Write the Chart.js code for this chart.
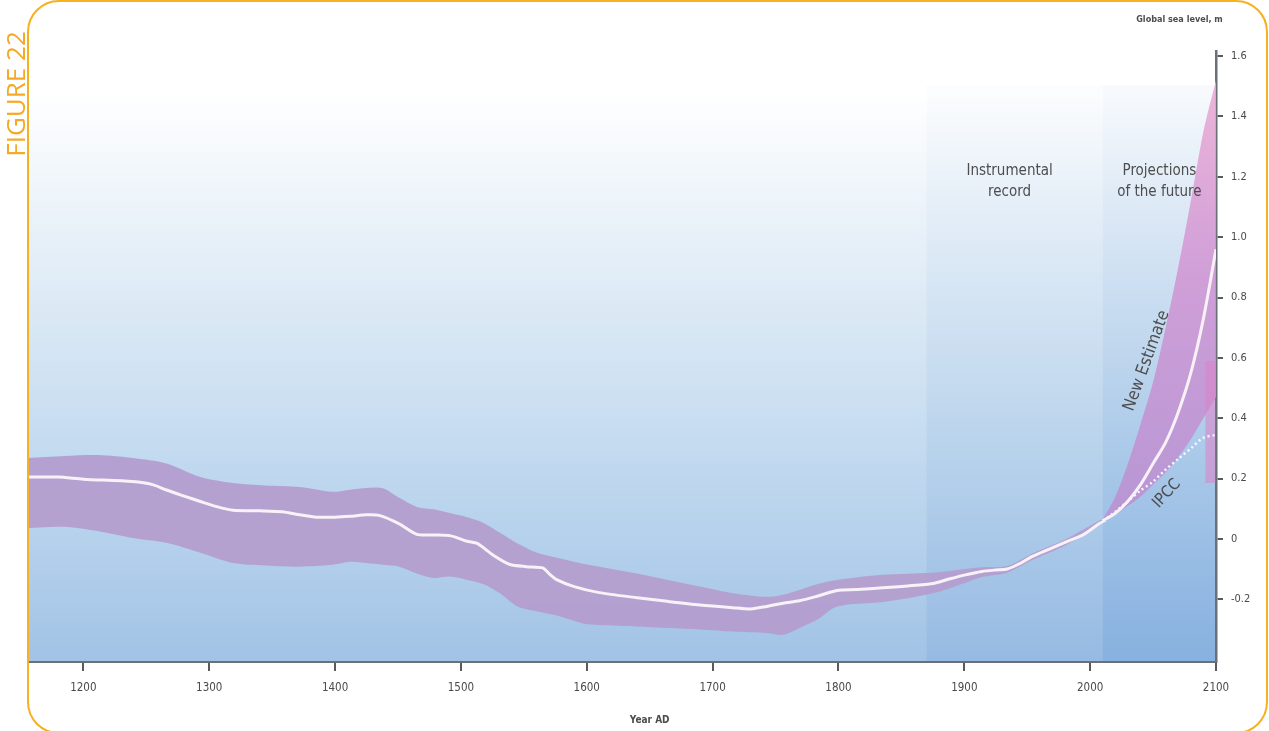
<!DOCTYPE html>
<html>
<head>
<meta charset="utf-8">
<script src="https://cdn.jsdelivr.net/npm/chart.js@4.4.1/dist/chart.umd.min.js"></script>
<style>
html,body{margin:0;padding:0;background:#fff;}
#wrap{position:relative;width:1269px;height:731px;overflow:hidden;background:#fff;}
#c{position:absolute;left:0;top:0;}
#frame{position:absolute;left:27px;top:0px;width:1241px;height:734px;border:2.5px solid #f6b020;border-radius:32px;box-sizing:border-box;pointer-events:none;}
#fig{position:absolute;left:-55px;top:78px;width:140px;height:32px;line-height:32px;text-align:center;font-family:"Open Sans",sans-serif;font-size:26px;color:#f7a823;transform:rotate(-90deg);transform-origin:50% 50%;white-space:nowrap;}
</style>
</head>
<body>
<div id="wrap">
<canvas id="c" width="1269" height="731"></canvas>
<div id="frame"></div>
<div id="fig">FIGURE 22</div>
</div>
<script>
// ---- data ----
const histYears = [1156,1185,1212,1239,1266,1293,1319,1345,1372,1398,1412,1425,1438,1451,1465,1478,1491,1505,1518,1531,1545,1560,1579,1597,1610,1640,1664,1690,1716,1743,1756,1769,1783,1799,1835,1875,1901,1914,1934,1954,1981,2007,2012];
const histUpper = [0.268,0.275,0.278,0.268,0.25,0.205,0.185,0.177,0.172,0.156,0.163,0.169,0.168,0.136,0.106,0.098,0.086,0.072,0.053,0.02,-0.015,-0.045,-0.065,-0.082,-0.092,-0.115,-0.136,-0.158,-0.18,-0.192,-0.185,-0.169,-0.15,-0.136,-0.119,-0.112,-0.1,-0.094,-0.09,-0.048,0.0,0.06,0.07];
const histLower = [0.036,0.04,0.025,0.003,-0.013,-0.046,-0.08,-0.088,-0.092,-0.086,-0.076,-0.08,-0.086,-0.092,-0.115,-0.13,-0.125,-0.136,-0.15,-0.18,-0.224,-0.24,-0.257,-0.28,-0.285,-0.29,-0.295,-0.30,-0.307,-0.312,-0.318,-0.295,-0.268,-0.224,-0.209,-0.18,-0.145,-0.126,-0.112,-0.07,-0.02,0.045,0.055];

const lineYears = [1156,1180,1200,1239,1255,1266,1280,1293,1306,1319,1340,1358,1372,1385,1400,1412,1425,1435,1451,1465,1478,1492,1505,1513,1526,1539,1552,1565,1570,1576,1590,1610,1640,1664,1690,1716,1730,1743,1756,1769,1783,1799,1815,1835,1855,1875,1888,1900,1914,1925,1934,1945,1954,1968,1981,1995,2007,2012];
const lineValues = [0.205,0.205,0.198,0.19,0.18,0.162,0.142,0.124,0.107,0.095,0.093,0.09,0.08,0.072,0.072,0.075,0.08,0.078,0.05,0.015,0.013,0.01,-0.008,-0.015,-0.055,-0.085,-0.092,-0.096,-0.115,-0.135,-0.158,-0.178,-0.195,-0.207,-0.219,-0.228,-0.232,-0.224,-0.213,-0.205,-0.19,-0.171,-0.168,-0.162,-0.156,-0.148,-0.133,-0.12,-0.108,-0.103,-0.1,-0.08,-0.058,-0.033,-0.01,0.015,0.05,0.062];

const projYears = [2010,2020,2030,2040,2050,2060,2070,2080,2090,2100];
const projUpper = [0.065,0.14,0.25,0.38,0.52,0.70,0.90,1.12,1.35,1.52];
const projLower = [0.055,0.08,0.11,0.14,0.18,0.22,0.27,0.33,0.40,0.47];
const newEstimate = [0.06,0.085,0.125,0.18,0.25,0.32,0.42,0.55,0.73,0.96];
const ipccValues = [0.06,0.09,0.125,0.16,0.19,0.23,0.265,0.30,0.335,0.345];
const ipccRangeYear = 2095.5;
const ipccRange = [0.185, 0.59];

const xTicks = [1200,1300,1400,1500,1600,1700,1800,1900,2000,2100];
const yTicks = [-0.2,0,0.2,0.4,0.6,0.8,1.0,1.2,1.4,1.6];
const yTickLabels = ['-0.2','0','0.2','0.4','0.6','0.8','1.0','1.2','1.4','1.6'];
const periodInstrumental = [1870, 2010];
const periodProjection = [2010, 2100];

// ---- helpers ----
const pts = (xs, ys) => xs.map((x, i) => ({x: x, y: ys[i]}));
const FONT = '"DejaVu Sans Condensed","DejaVu Sans",sans-serif';

const bgPlugin = {
  id: 'bg',
  beforeDraw(chart) {
    const ctx = chart.ctx, ca = chart.chartArea, xs = chart.scales.x;
    ctx.save();
    ctx.fillStyle = '#ffffff';
    ctx.fillRect(0, 0, chart.width, chart.height);
    const g = ctx.createLinearGradient(0, 0, 0, ca.bottom);
    g.addColorStop(0, '#ffffff');
    g.addColorStop(0.14, '#ffffff');
    g.addColorStop(0.3, '#edf4fa');
    g.addColorStop(0.5, '#d8e7f4');
    g.addColorStop(0.7, '#c1d9ef');
    g.addColorStop(1, '#a2c3e6');
    ctx.fillStyle = g;
    ctx.fillRect(ca.left, 0, ca.right - ca.left, ca.bottom);
    const x1 = xs.getPixelForValue(periodInstrumental[0]);
    const x2 = xs.getPixelForValue(periodInstrumental[1]);
    const x3 = xs.getPixelForValue(periodProjection[1]);
    const top = 85;
    const gi = ctx.createLinearGradient(0, top, 0, ca.bottom);
    gi.addColorStop(0, 'rgba(70,130,200,0.02)');
    gi.addColorStop(1, 'rgba(70,130,200,0.13)');
    ctx.fillStyle = gi;
    ctx.fillRect(x1, top, x2 - x1, ca.bottom - top);
    const gp = ctx.createLinearGradient(0, top, 0, ca.bottom);
    gp.addColorStop(0, 'rgba(60,125,205,0.04)');
    gp.addColorStop(1, 'rgba(60,125,205,0.26)');
    ctx.fillStyle = gp;
    ctx.fillRect(x2, top, x3 - x2, ca.bottom - top);
    ctx.restore();
  }
};

const textPlugin = {
  id: 'texts',
  afterDraw(chart) {
    const ctx = chart.ctx, xs = chart.scales.x, ys = chart.scales.y;
    const X = v => xs.getPixelForValue(v), Y = v => ys.getPixelForValue(v);
    ctx.save();
    ctx.fillStyle = '#4d4d4d';
    ctx.textAlign = 'center';
    ctx.textBaseline = 'middle';
    ctx.font = '15px ' + FONT;
    ctx.fillText('Instrumental', X(1936), Y(1.218));
    ctx.fillText('record', X(1936), Y(1.149));
    ctx.fillText('Projections', X(2055), Y(1.218));
    ctx.fillText('of the future', X(2055), Y(1.149));
    ctx.save();
    ctx.translate(X(2045), Y(0.59));
    ctx.rotate(-70 * Math.PI / 180);
    ctx.font = '17px ' + FONT;
    ctx.fillText('New Estimate', 0, 0);
    ctx.restore();
    ctx.save();
    ctx.translate(X(2061), Y(0.15));
    ctx.rotate(-47 * Math.PI / 180);
    ctx.font = '16px ' + FONT;
    ctx.fillText('IPCC', 0, 0);
    ctx.restore();
    ctx.font = 'bold 9px ' + FONT;
    ctx.fillText('Global sea level, m', X(2071), Y(1.72));
    ctx.font = 'bold 10px ' + FONT;
    ctx.fillText('Year AD', X(1650), 720);
    ctx.restore();
  }
};

const projFill = (c) => {
  const chart = c.chart;
  if (!chart.chartArea) return 'rgba(200,150,210,0.8)';
  const ys = chart.scales.y;
  const g = chart.ctx.createLinearGradient(0, ys.getPixelForValue(1.5), 0, ys.getPixelForValue(0.1));
  g.addColorStop(0, 'rgba(235,172,214,0.9)');
  g.addColorStop(0.45, 'rgba(208,150,212,0.88)');
  g.addColorStop(1, 'rgba(186,146,210,0.9)');
  return g;
};

new Chart(document.getElementById('c'), {
  type: 'line',
  data: {
    datasets: [
      { data: pts(histYears, histUpper), borderWidth: 0, pointRadius: 0, fill: false, tension: 0.3, order: 10, borderColor: 'rgba(0,0,0,0)' },
      { data: pts(histYears, histLower), borderWidth: 0, pointRadius: 0, fill: 0, tension: 0.3, order: 9, borderColor: 'rgba(0,0,0,0)', backgroundColor: 'rgba(180,158,207,0.95)' },
      { data: pts(projYears, projUpper), borderWidth: 0, pointRadius: 0, fill: false, tension: 0.3, order: 8, borderColor: 'rgba(0,0,0,0)' },
      { data: pts(projYears, projLower), borderWidth: 0, pointRadius: 0, fill: 2, tension: 0.3, order: 7, borderColor: 'rgba(0,0,0,0)', backgroundColor: projFill },
      { data: [{x: ipccRangeYear, y: ipccRange[0]}, {x: ipccRangeYear, y: ipccRange[1]}], borderWidth: 10, borderCapStyle: 'butt', pointRadius: 0, fill: false, order: 6, borderColor: 'rgba(220,130,200,0.55)' },
      { data: pts(projYears, ipccValues), borderWidth: 2.5, borderDash: [2, 3], pointRadius: 0, fill: false, tension: 0.3, order: 5, borderColor: 'rgba(250,252,255,0.95)' },
      { data: pts(lineYears, lineValues), borderWidth: 3, pointRadius: 0, fill: false, tension: 0.25, order: 2, borderColor: '#f8f2f8' },
      { data: pts(projYears, newEstimate), borderWidth: 3, pointRadius: 0, fill: false, tension: 0.3, order: 1, borderColor: '#f8f2f8' }
    ]
  },
  options: {
    responsive: false,
    animation: false,
    devicePixelRatio: 1,
    layout: { padding: { left: 28, top: 51, right: 0, bottom: 0 } },
    plugins: { legend: { display: false }, tooltip: { enabled: false } },
    scales: {
      x: {
        type: 'linear', position: 'bottom', min: 1156, max: 2100,
        afterBuildTicks: s => { s.ticks = xTicks.map(v => ({ value: v })); },
        afterFit: s => { s.height = 69; },
        ticks: { autoSkip: false, maxRotation: 0, color: '#4a4a4a', padding: 10, font: { family: FONT, size: 11.5 }, callback: v => String(v) },
        grid: { drawOnChartArea: false, drawTicks: true, tickLength: 9, color: '#5a5a5a', lineWidth: 2 },
        border: { display: true, color: '#6b6f78', width: 2 }
      },
      y: {
        type: 'linear', position: 'right', min: -0.408, max: 1.617,
        afterBuildTicks: s => { s.ticks = yTicks.map(v => ({ value: v })); },
        afterFit: s => { s.width = 53; },
        ticks: { autoSkip: false, color: '#4a4a4a', padding: 8, font: { family: FONT, size: 11 },
          callback: (v, i) => yTickLabels[i] },
        grid: { drawOnChartArea: false, drawTicks: true, tickLength: 7, color: '#5a5a5a', lineWidth: 2 },
        border: { display: true, color: '#6b6f78', width: 2.5 }
      }
    }
  },
  plugins: [bgPlugin, textPlugin]
});
</script>
</body>
</html>
